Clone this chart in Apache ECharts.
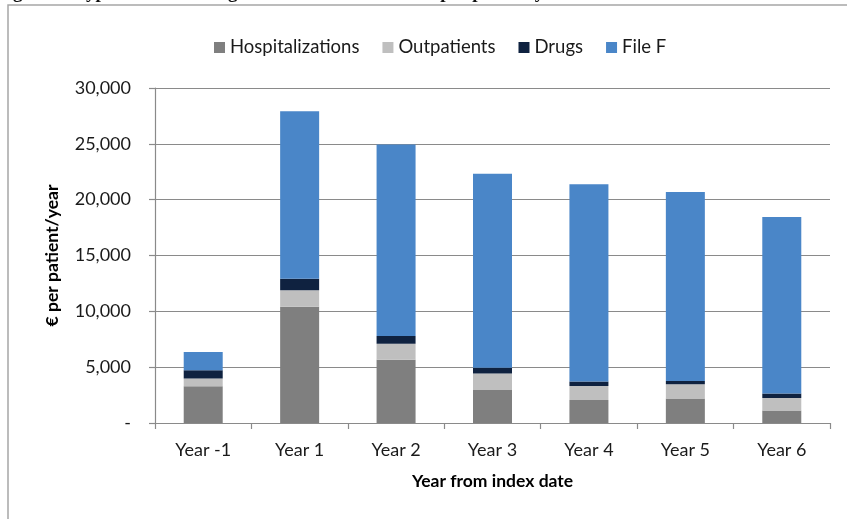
<!DOCTYPE html>
<html>
<head>
<meta charset="utf-8">
<script src="https://cdn.jsdelivr.net/npm/echarts@6/dist/echarts.min.js"></script>
<style>
  html, body { margin: 0; padding: 0; background: #ffffff; }
  #chart { width: 847px; height: 519px; }
</style>
</head>
<body>
<div id="chart"></div>
<script>
// Annual cost per patient, split by type of cost (EUR)
const categories = ['Year -1', 'Year 1', 'Year 2', 'Year 3', 'Year 4', 'Year 5', 'Year 6'];
const hospitalizations = [3280, 10420, 5660, 3010, 2070, 2190, 1110];
const outpatients = [700, 1470, 1440, 1420, 1250, 1290, 1140];
const drugs = [750, 1020, 690, 510, 390, 290, 400];
const fileF = [1620, 15000, 17160, 17390, 17660, 16910, 15790];

const seriesNames = ['Hospitalizations', 'Outpatients', 'Drugs', 'File F'];
const seriesColors = ['#7f7f7f', '#bfbfbf', '#0f2240', '#4a86c8'];
const seriesData = [hospitalizations, outpatients, drugs, fileF];

const yMin = 0, yMax = 30000, yStep = 5000;

const FONT = 'Lato, "Open Sans", sans-serif';

const chart = echarts.init(document.getElementById('chart'), null, { renderer: 'canvas' });

chart.setOption({
  animation: false,
  backgroundColor: '#ffffff',
  textStyle: { fontFamily: FONT },
  graphic: [
    {
      type: 'text',
      left: -4,
      top: -16,
      silent: true,
      style: {
        text: 'Figure 2: Type of cost sharing in the CKD cohort: cost per patient/year',
        font: 'bold 19px "Liberation Serif", "DejaVu Serif", serif',
        fill: '#111111'
      }
    },
    {
      type: 'polyline',
      silent: true,
      shape: { points: [[8, 519], [8, 5], [847, 5]] },
      style: { stroke: '#a6a6a6', lineWidth: 1.5, fill: null }
    }
  ],
  legend: {
    top: 33,
    left: 209,
    itemWidth: 11,
    itemHeight: 11,
    itemGap: 23,
    icon: 'rect',
    textStyle: { fontFamily: FONT, fontSize: 18.5, color: '#1a1a1a' },
    data: seriesNames
  },
  grid: {
    left: 155,
    right: 17,
    top: 88,
    bottom: 96,
    containLabel: false
  },
  xAxis: {
    type: 'category',
    data: categories,
    name: 'Year from index date',
    nameLocation: 'middle',
    nameGap: 49,
    nameTextStyle: { fontFamily: FONT, fontSize: 17.5, fontWeight: 'bold', color: '#000000' },
    axisLine: { show: true, lineStyle: { color: '#8a8a8a', width: 1.2 } },
    axisTick: { show: true, length: 6, alignWithLabel: false, lineStyle: { color: '#8a8a8a', width: 1.2 } },
    axisLabel: { fontFamily: FONT, fontSize: 18, color: '#1a1a1a', margin: 18 },
    splitLine: { show: false }
  },
  yAxis: {
    type: 'value',
    min: yMin,
    max: yMax,
    interval: yStep,
    name: '€ per patient/year',
    nameLocation: 'middle',
    nameRotate: 90,
    nameGap: 94,
    nameTextStyle: { fontFamily: FONT, fontSize: 17.5, fontWeight: 'bold', color: '#000000' },
    axisLine: { show: true, lineStyle: { color: '#8a8a8a', width: 1.2 } },
    axisTick: { show: true, length: 6, lineStyle: { color: '#8a8a8a', width: 1.2 } },
    axisLabel: {
      fontFamily: FONT,
      fontSize: 18,
      color: '#1a1a1a',
      margin: 24,
      formatter: function (v) { return v === 0 ? '-' : v.toLocaleString('en-US'); }
    },
    splitLine: { show: true, lineStyle: { color: '#8a8a8a', width: 1.2 } }
  },
  series: seriesNames.map(function (name, i) {
    return {
      name: name,
      type: 'bar',
      stack: 'cost',
      barWidth: 39,
      data: seriesData[i],
      itemStyle: { color: seriesColors[i] },
      emphasis: { disabled: true }
    };
  })
});
</script>
</body>
</html>
